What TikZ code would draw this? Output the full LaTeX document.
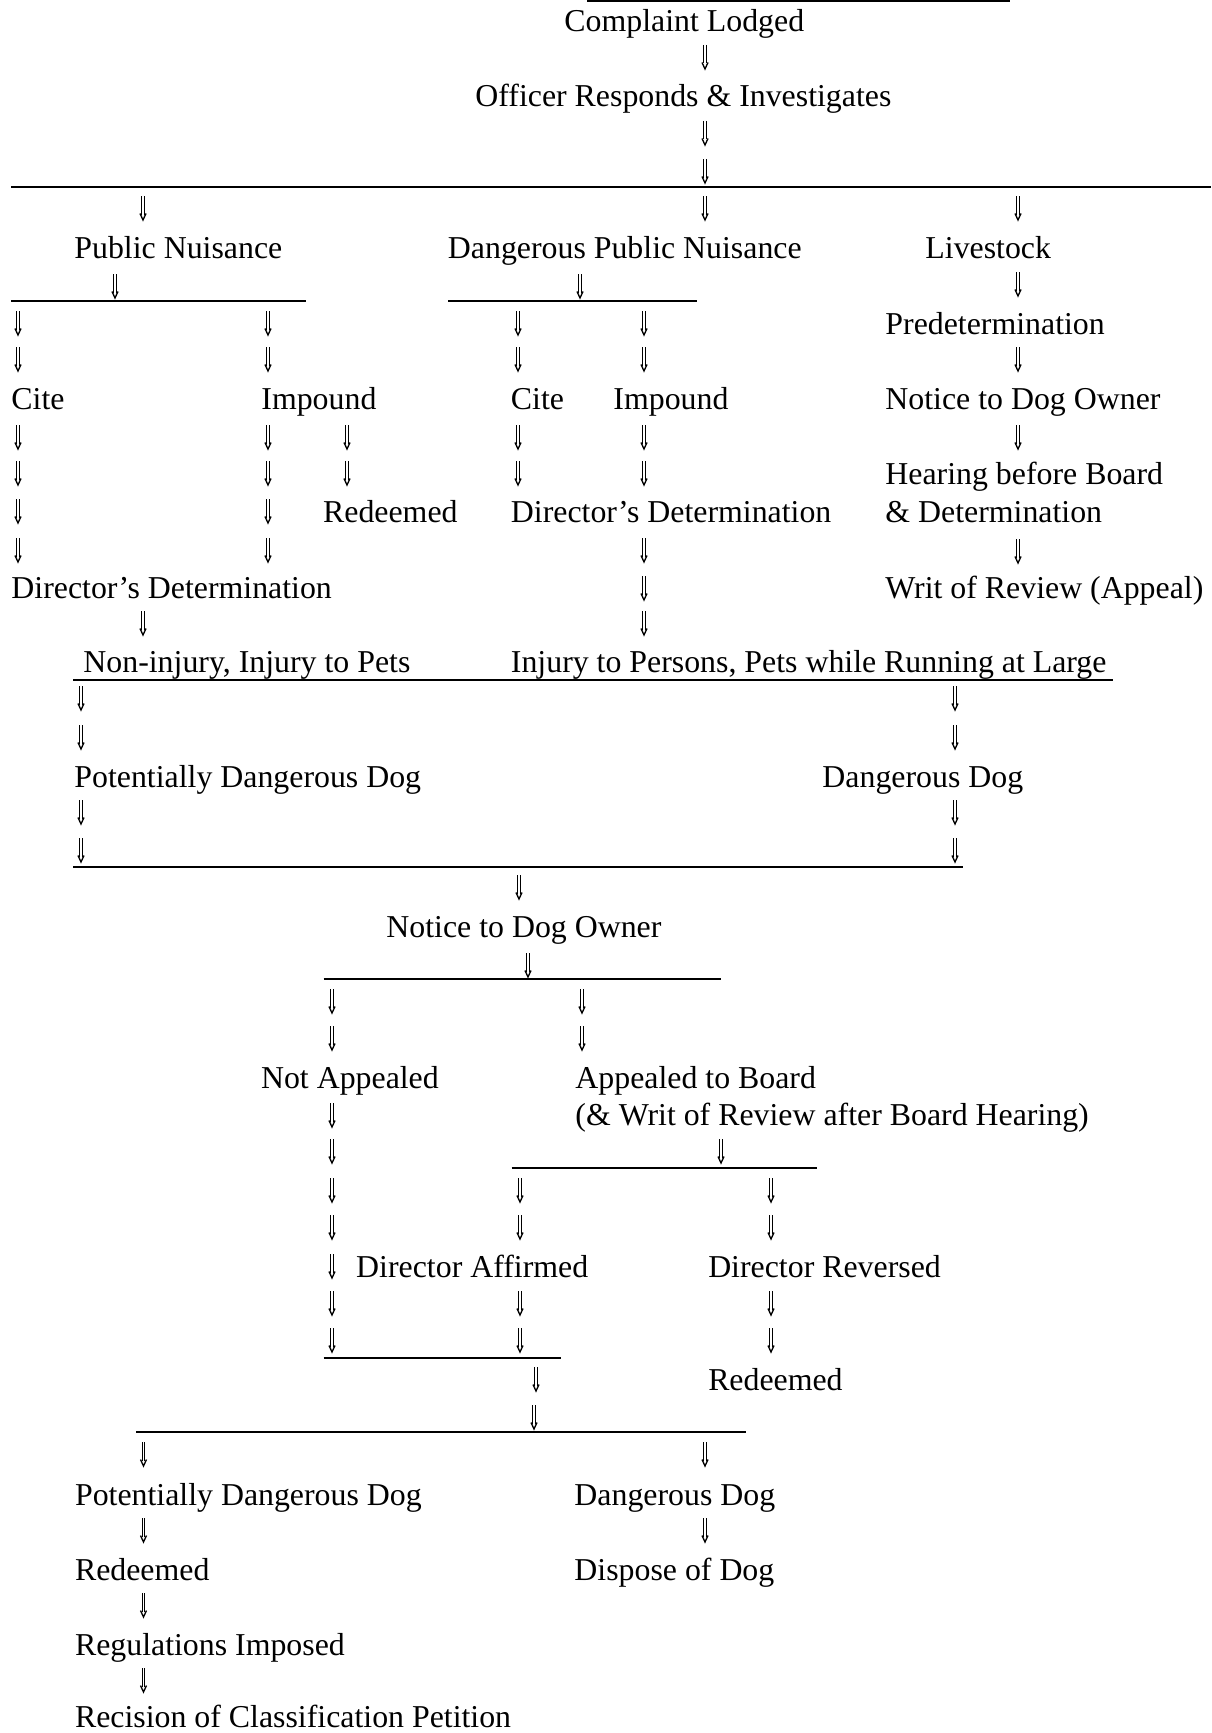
\documentclass[tikz,border=0pt]{standalone}
\usepackage{fontspec}
\setmainfont{Liberation Serif}
\tikzset{
  dar/.pic={
    \draw[line width=0.5pt] (-1.4,-12) -- (-1.4,6.5) (1.4,-12) -- (1.4,6.5);
    \draw[line width=0.6pt, line join=miter] (-3,5.5) -- (0,12) -- (3,5.5);
  },
  lbl/.style={anchor=base west, inner sep=0pt, font=\fontsize{14.33}{17}\selectfont},
  hline/.style={line width=0.9pt}
}
\begin{document}
\begin{tikzpicture}[x=0.45pt,y=-0.45pt]
\useasboundingbox (0,0) rectangle (1211,1733);
% ---------- text nodes ----------
\node[lbl] (complaint) at (564,32) {Complaint Lodged};
\node[lbl] (officer) at (475,107) {Officer Responds \& Investigates};
\node[lbl] (pn) at (74,258) {Public Nuisance};
\node[lbl] (dpn) at (447.5,258) {Dangerous Public Nuisance};
\node[lbl] (live) at (925,258) {Livestock};
\node[lbl] (predet) at (885,334) {Predetermination};
\node[lbl] (citeA) at (11,409) {Cite};
\node[lbl] (impA) at (261,409) {Impound};
\node[lbl] (citeB) at (510.5,409) {Cite};
\node[lbl] (impB) at (613,409) {Impound};
\node[lbl] (noticeL) at (885,409) {Notice to Dog Owner};
\node[lbl] (hearing) at (885,484) {Hearing before Board};
\node[lbl] (hearing2) at (885,522) {\& Determination};
\node[lbl] (redA) at (322.7,522) {Redeemed};
\node[lbl] (ddB) at (510.5,522) {Director’s Determination};
\node[lbl] (ddA) at (11,598) {Director’s Determination};
\node[lbl] (writ) at (885,598) {Writ of Review (Appeal)};
\node[lbl] (noninj) at (83,672) {Non-injury, Injury to Pets};
\node[lbl] (inj) at (510.5,672) {Injury to Persons, Pets while Running at Large};
\node[lbl] (pdd1) at (74,787) {Potentially Dangerous Dog};
\node[lbl] (dd1) at (822,787) {Dangerous Dog};
\node[lbl] (notice) at (386,937) {Notice to Dog Owner};
\node[lbl] (notapp) at (260.6,1088) {Not Appealed};
\node[lbl] (app) at (575,1088) {Appealed to Board};
\node[lbl] (app2) at (575,1125) {(\& Writ of Review after Board Hearing)};
\node[lbl] (affirm) at (355.8,1277) {Director Affirmed};
\node[lbl] (reverse) at (707.8,1277) {Director Reversed};
\node[lbl] (redB) at (707.8,1390) {Redeemed};
\node[lbl] (pdd2) at (74.6,1505) {Potentially Dangerous Dog};
\node[lbl] (dd2) at (574,1505) {Dangerous Dog};
\node[lbl] (redC) at (74.6,1580) {Redeemed};
\node[lbl] (dispose) at (574,1580) {Dispose of Dog};
\node[lbl] (regs) at (74.6,1655) {Regulations Imposed};
\node[lbl] (recision) at (74.6,1727) {Recision of Classification Petition};
% ---------- horizontal lines ----------
\draw[hline] (587,1) -- (1010,1);
\draw[hline] (11,187) -- (1211,187);
\draw[hline] (11,301) -- (306,301);
\draw[hline] (448,301) -- (697,301);
\draw[hline] (73,680) -- (1113,680);
\draw[hline] (73,867) -- (963,867);
\draw[hline] (323.5,979) -- (721,979);
\draw[hline] (511.6,1168) -- (817,1168);
\draw[hline] (323.5,1358) -- (560.6,1358);
\draw[hline] (136,1432) -- (746,1432);
% ---------- arrows ----------
\foreach \p in {(705,57),(705,133),(705,171),
  (143,208),(705,208),(1018,208),
  (115,286),(580,286),(1018,284),
  (18,323),(268,323),(518,323),(644,323),
  (18,359),(268,359),(518,359),(644,359),(1018,359),
  (18,437),(268,437),(347,437),(518,437),(644,437),(1018,437),
  (18,473),(268,473),(347,473),(518,473),(644,473),
  (18,511),(268,511),
  (18,550),(268,550),(644,550),(1018,551),
  (644,588),
  (143,623),(644,623),
  (81,698),(955,698),(81,737),(955,737),
  (81,812),(955,812),(81,850),(955,850),
  (519,887),(528,965),
  (332,1001),(582,1001),(332,1038),(582,1038),
  (332,1115),(332,1151),(721,1151),
  (332,1190),(520,1190),(771,1190),
  (332,1227),(520,1227),(771,1227),
  (332,1266),
  (332,1303),(520,1303),(771,1303),
  (332,1340),(520,1340),(771,1340),
  (536,1379),(534,1417),
  (143.5,1454),(705,1454),
  (143.5,1530),(705,1530),
  (143.5,1605),(143.5,1680)}
  \pic at \p {dar};
\end{tikzpicture}
\end{document}
